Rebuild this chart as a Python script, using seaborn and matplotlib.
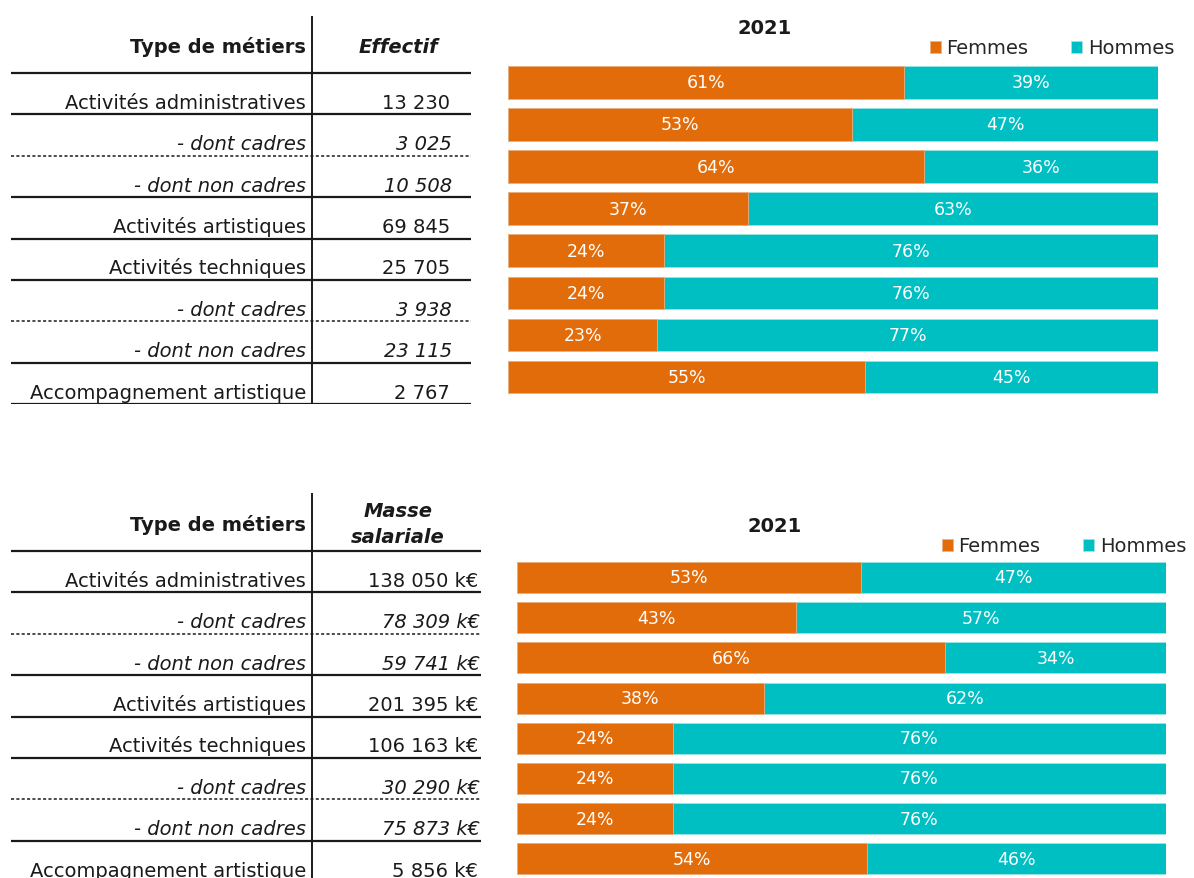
import matplotlib
matplotlib.use('Agg')
import matplotlib.pyplot as plt
import seaborn as sns
import pandas as pd

# données
metiers = ['Activités administratives', '- dont cadres', '- dont non cadres',
           'Activités artistiques', 'Activités techniques', '- dont cadres',
           '- dont non cadres', 'Accompagnement artistique']
sous_ligne = [False, True, True, False, False, True, True, False]

effectif = ['13 230', '3 025', '10 508', '69 845', '25 705', '3 938', '23 115', '2 767']
femmes_effectif = [61, 53, 64, 37, 24, 24, 23, 55]
hommes_effectif = [39, 47, 36, 63, 76, 76, 77, 45]

masse = ['138 050 k€', '78 309 k€', '59 741 k€', '201 395 k€',
         '106 163 k€', '30 290 k€', '75 873 k€', '5 856 k€']
femmes_masse = [53, 43, 66, 38, 24, 24, 24, 54]
hommes_masse = [47, 57, 34, 62, 76, 76, 76, 46]

annee = '2021'
orange = '#E36C0A'
turquoise = '#00BFC3'
gris_fonce = '#1a1a1a'

W, H = 1194, 879


def rect(x0, y0, x1, y1):
    return [x0 / W, 1 - y1 / H, (x1 - x0) / W, (y1 - y0) / H]


def tableau(ax, entete, valeurs, haut, ligne1, fin_ligne, x_num, interligne):
    rh = 41.4
    bas = ligne1 + 8 * rh
    ax.set_position(rect(0, haut, 500, bas))
    ax.set_xlim(0, 500)
    ax.set_ylim(8, -(ligne1 - haut) / rh)
    ax.axis('off')
    ax.axvline(312, color=gris_fonce, lw=1.4)
    for i in range(9):
        style = (0, (2, 1.5)) if i in (2, 6) else '-'
        lw = 1.1 if i in (2, 6) else 1.6
        ax.hlines(i, 11, fin_ligne, color=gris_fonce, lw=lw, linestyle=style)
    y_ent = -(ligne1 - haut) / rh * 0.47
    ax.text(306, y_ent, 'Type de métiers', ha='right', va='center',
            fontsize=14, fontweight='bold', color=gris_fonce)
    ax.text(398, y_ent, entete, ha='center', va='center', fontsize=14,
            fontweight='bold', fontstyle='italic', color=gris_fonce,
            linespacing=interligne)
    for i, (nom, val, sl) in enumerate(zip(metiers, valeurs, sous_ligne)):
        st = 'italic' if sl else 'normal'
        ax.text(306, i + 0.84, nom, ha='right', va='baseline', fontsize=14,
                fontstyle=st, color=gris_fonce)
        ax.text(x_num + (2 if sl else 0), i + 0.84, val, ha='right', va='baseline',
                fontsize=14, fontstyle=st, color=gris_fonce)


def barres(ax, femmes, hommes, pos, titre_xy, legende_xy):
    df = pd.DataFrame({'ligne': list(range(len(femmes))),
                       'Femmes': femmes, 'Hommes': hommes})
    df['Total'] = df['Femmes'] + df['Hommes']
    ax.set_position(pos)
    sns.barplot(data=df, x='Total', y='ligne', orient='h', color=turquoise,
                width=0.77, edgecolor='#9fe3e3', linewidth=0.6, saturation=1,
                ax=ax, label='Hommes')
    sns.barplot(data=df, x='Femmes', y='ligne', orient='h', color=orange,
                width=0.77, edgecolor='#f0b080', linewidth=0.6, saturation=1,
                ax=ax, label='Femmes')
    for i, (f, h) in enumerate(zip(femmes, hommes)):
        ax.text(f / 2, i, f'{f}%', ha='center', va='center', color='white', fontsize=12.5)
        ax.text(f + h / 2, i, f'{h}%', ha='center', va='center', color='white', fontsize=12.5)
    ax.set_xlim(0, 100)
    ax.set_ylim(len(femmes) - 0.5, -0.5)
    ax.axis('off')
    fig.text(titre_xy[0] / W, 1 - titre_xy[1] / H, annee, ha='center', va='center',
             fontsize=14, fontweight='bold', color=gris_fonce)
    handles, labels = ax.get_legend_handles_labels()
    ordre = [labels.index('Femmes'), labels.index('Hommes')]
    ax.legend([handles[k] for k in ordre], [labels[k] for k in ordre], ncol=2,
              loc='center left', bbox_to_anchor=(legende_xy[0] / W, 1 - legende_xy[1] / H),
              bbox_transform=fig.transFigure, frameon=False, fontsize=14,
              handlelength=0.57, handleheight=0.57, handletextpad=0.28,
              columnspacing=2.2, borderpad=0, borderaxespad=0)


sns.set_style('white')
plt.rcParams['font.family'] = ['DejaVu Sans']

fig = plt.figure(figsize=(11.94, 8.79), dpi=100)

ax_t1 = fig.add_axes([0, 0, 1, 1])
tableau(ax_t1, 'Effectif', effectif, 17, 74, 471, 450, 1.05)

ax_t2 = fig.add_axes([0, 0, 1, 1])
tableau(ax_t2, 'Masse\nsalariale', masse, 494, 552, 481, 478, 1.5)

ax_b1 = fig.add_axes([0, 0, 1, 1])
barres(ax_b1, femmes_effectif, hommes_effectif,
       rect(508, 62.3, 1158, 399), (765, 28), (930, 49))

ax_b2 = fig.add_axes([0, 0, 1, 1])
barres(ax_b2, femmes_masse, hommes_masse,
       rect(517, 558.4, 1166, 880), (775, 527), (942, 547))

fig.savefig('out.png', dpi=100)
